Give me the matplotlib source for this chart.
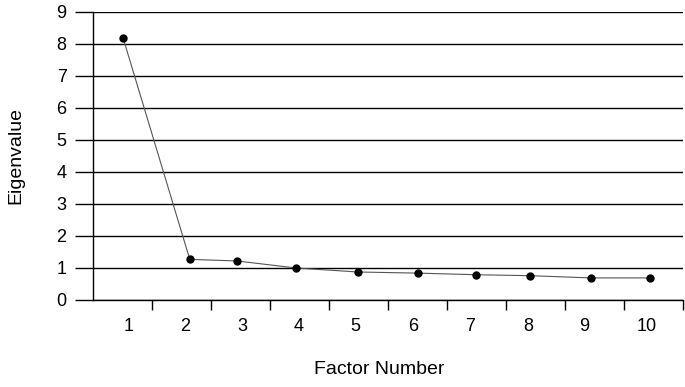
import matplotlib
matplotlib.use("Agg")
import matplotlib.pyplot as plt
from matplotlib.ticker import FixedLocator, NullFormatter

plt.rcParams.update({
    "font.family": ["Liberation Sans", "DejaVu Sans"],
    "font.size": 13,
})

# --- Data ------------------------------------------------------------------
factors = [1, 2, 3, 4, 5, 6, 7, 8, 9, 10]
# point positions along the factor axis (slightly off-centre in the original)
factor_pos = [1.01, 2.14, 2.94, 3.94, 4.99, 6.01, 6.99, 7.91, 8.94, 9.94]
eigenvalues = [8.19, 1.27, 1.22, 1.00, 0.875, 0.84, 0.79, 0.76, 0.69, 0.69]
label_pos = [1.11, 2.06, 3.03, 3.99, 4.95, 5.92, 6.89, 7.87, 8.82, 9.88]
y_ticks = list(range(0, 10))

fig = plt.figure(figsize=(6.85, 3.87), dpi=100)
ax = fig.add_axes([93 / 685, 87 / 387, 590 / 685, 288 / 387])

ax.plot(factor_pos, eigenvalues, color="#555555", linewidth=0.8, zorder=3)
ax.plot(factor_pos, eigenvalues, "o", color="black", markersize=5, zorder=4)

ax.set_xlim(0.5, 10.5)
ax.set_ylim(0, 9)

# y axis: gridlines continue as outward ticks
ax.set_yticks(y_ticks)
ax.yaxis.grid(True, color="black", linewidth=1.0)
ax.tick_params(axis="y", direction="out", length=13, width=1.0, pad=6)
ax.set_axisbelow(True)

# x axis: boundary ticks between categories, labels in between
ax.xaxis.set_major_locator(FixedLocator([f + 0.5 for f in factors]))
ax.xaxis.set_major_formatter(NullFormatter())
ax.xaxis.set_minor_locator(FixedLocator(label_pos))
ax.set_xticklabels([str(f) for f in factors], minor=True)
ax.tick_params(axis="x", which="major", direction="out", length=7.5, width=1.0)
ax.tick_params(axis="x", which="minor", length=0, pad=13)

for side in ["top", "right"]:
    ax.spines[side].set_visible(False)
ax.spines["left"].set_linewidth(1.0)
ax.spines["bottom"].set_linewidth(1.0)

ax.set_xlabel("Factor Number", fontsize=14, labelpad=19)
ax.xaxis.label.set_x(0.486)
ax.set_ylabel("Eigenvalue", fontsize=14, labelpad=23)

fig.savefig("out.png", dpi=100)
